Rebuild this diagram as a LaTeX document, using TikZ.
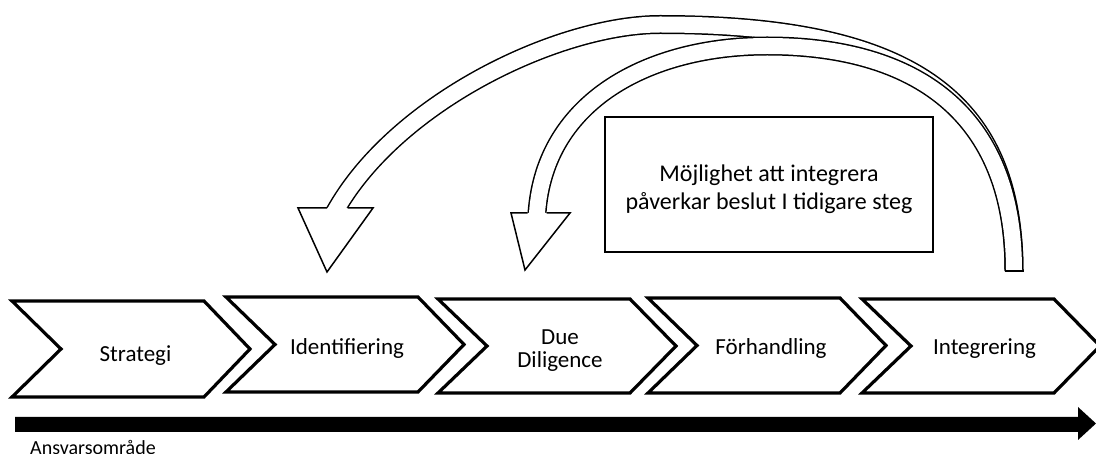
\documentclass[tikz,border=0pt]{standalone}
\usepackage{fontspec}
\setmainfont{Carlito}
\begin{document}
\begin{tikzpicture}[x=1pt,y=-1pt,
  chev/.style={draw=black, line width=3.2pt, line join=miter, fill=white},
  steplabel/.style={font=\fontsize{23}{23}\selectfont, inner sep=0pt, anchor=base},
  notebox/.style={draw=black, line width=2pt, fill=white, minimum width=328pt, minimum height=135pt, inner sep=0pt},
  notetext/.style={font=\fontsize{24}{28}\selectfont, inner sep=0pt, anchor=base},
  shaftout/.style={draw=black, line width=19pt, line cap=butt},
  shaftin/.style={draw=white, line width=16pt, line cap=butt},
  headline/.style={draw=black, line width=1.5pt, line join=miter},
  bar/.style={fill=black}
]
\useasboundingbox (0,0) rectangle (1096,454);

% chevrons: left, top, bottom
\foreach \L/\T/\B in {12/301/397, 226/297/392, 438/299/393, 648/298/393, 862/299/393}{
  \pgfmathsetmacro{\M}{(\T+\B)/2}
  \path[chev] (\L,\T) -- ({\L+192},\T) -- ({\L+238},\M) -- ({\L+192},\B) -- (\L,\B) -- ({\L+49},\M) -- cycle;
}

\node[steplabel] (strategi) at (135.5,362) {Strategi};
\node[steplabel] (ident) at (347,355) {Identifiering};
\node[steplabel] (dd) at (560,345) {\def\arraystretch{1}\begin{tabular}[t]{@{}c@{}}Due\\Diligence\end{tabular}};
\node[steplabel] (forh) at (771,355) {Förhandling};
\node[steplabel] (integ) at (984.5,355) {Integrering};

% timeline bar
\path[bar] (15,417) -- (1078,417) -- (1078,407) -- (1096,423.5) -- (1078,440) -- (1078,432) -- (15,432) -- cycle;
\node[font=\fontsize{20}{24}\selectfont, inner sep=0pt, anchor=base west] (ansvar) at (30,455) {Ansvarsområde};

% note box
\node[notebox] (note) at (769,184.5) {};
\node[notetext] (notetxt) at (769,182) {\def\arraystretch{1}\begin{tabular}[t]{@{}c@{}}Möjlighet att integrera\\påverkar beslut I tidigare steg\end{tabular}};

% curved block arrows
\coordinate (tail) at (1014,271);
\coordinate (top1) at (660,24.5);
\coordinate (top2) at (767,46);
\coordinate (base1) at (337,208);
\coordinate (base2) at (537,213);

\draw[shaftout] (tail) .. controls (1014,97) and (908,24.5) .. (top1) .. controls (560,24.5) and (400,100) .. (base1) -- ++(-3.5,6);
\draw[shaftin]  (tail) .. controls (1014,97) and (908,24.5) .. (top1) .. controls (560,24.5) and (400,100) .. (base1) -- ++(-3.5,6);
\draw[shaftout] (tail) .. controls (1014,113) and (915,46) .. (top2) .. controls (650,46) and (545,100) .. (base2) -- ++(-0.5,6);
\draw[shaftin]  (tail) .. controls (1014,113) and (915,46) .. (top2) .. controls (650,46) and (545,100) .. (base2) -- ++(-0.5,6);

% heads
\fill[white] (298,208) -- (373,208) -- (327,272) -- cycle;
\path[headline] (327,208) -- (298,208) -- (327,272) -- (373,208) -- (347.5,208);
\fill[white] (511,213) -- (570,213) -- (525,270) -- cycle;
\path[headline] (527.5,213) -- (511,213) -- (525,270) -- (570,213) -- (546.5,213);
% tail end
\path[headline] (1004.5,271) -- (1023.5,271);
\end{tikzpicture}
\end{document}
